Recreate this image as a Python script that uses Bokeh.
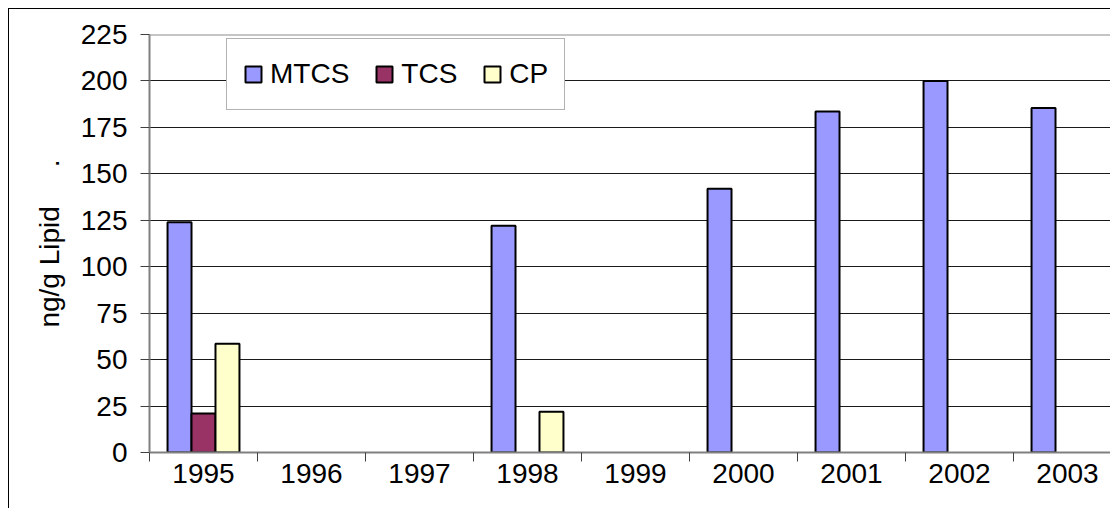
import math
from bokeh.plotting import figure
from bokeh.models import (ColumnDataSource, Range1d, LinearAxis, FixedTicker,
                          Span, Legend, LegendItem, Grid)
from bokeh.embed import file_html
from bokeh.resources import INLINE

# ---- data ----
years = ["1995", "1996", "1997", "1998", "1999", "2000", "2001", "2002", "2003"]
mtcs = [124, None, None, 122, None, 142, 183.5, 200, 185.5]
tcs = [21, None, None, None, None, None, None, None, None]
cp = [58.5, None, None, 22, None, None, None, None, None]
series_names = ["MTCS", "TCS", "CP"]
series_colors = ["#9999FF", "#993366", "#FFFFCC"]
y_ticks = [0, 25, 50, 75, 100, 125, 150, 175, 200, 225]
y_label = "ng/g Lipid\u00a0\u00a0\u00a0\u00a0\u00a0."

FONT = "Liberation Sans"
BAR_W = 0.222
offsets = [-0.222, 0.0, 0.222]

p = figure(width=1102, height=500, output_backend="svg", toolbar_location=None,
           x_range=Range1d(0, (1111 - 149) / 108.0), y_range=Range1d(0, 225),
           x_axis_location=None, y_axis_location=None,
           min_border_left=140, min_border_top=25, min_border_right=0,
           min_border_bottom=57,
           background_fill_color="white", border_fill_color="white",
           styles={"border-left": "1px solid #000000",
                   "border-top": "1px solid #000000",
                   "margin-left": "8px", "margin-top": "8px"})
p.outline_line_color = None
p.xgrid.visible = False
p.ygrid.visible = False

# grid lines
grid = Grid(dimension=1, ticker=FixedTicker(ticks=y_ticks[:-1]),
            grid_line_color="#1a1a1a", grid_line_width=1)
p.add_layout(grid)

# top border of plot area
p.add_layout(Span(location=y_ticks[-1], dimension="width",
                  line_color="#8c8c8c", line_width=2))

# bars
renderers = []
for vals, name, col, off in zip([mtcs, tcs, cp], series_names, series_colors, offsets):
    xs, tops = [], []
    for i, v in enumerate(vals):
        if v is not None:
            xs.append(i + 0.5 + off)
            tops.append(v)
    src = ColumnDataSource(dict(x=xs, top=tops))
    r = p.vbar(x="x", top="top", bottom=0, width=BAR_W, source=src,
               fill_color=col, line_color="#000000", line_width=2)
    renderers.append(r)

# y axis
yaxis = LinearAxis(ticker=FixedTicker(ticks=y_ticks))
yaxis.axis_line_color = "#808080"
yaxis.axis_line_width = 2
yaxis.major_tick_out = 9
yaxis.major_tick_in = 0
yaxis.major_tick_line_color = "#404040"
yaxis.minor_tick_line_color = None
yaxis.major_label_text_font = FONT
yaxis.major_label_text_font_size = "28px"
yaxis.major_label_text_color = "#000000"
yaxis.major_label_standoff = 13
yaxis.axis_label = y_label
yaxis.axis_label_text_font = FONT
yaxis.axis_label_text_font_size = "28px"
yaxis.axis_label_text_font_style = "normal"
yaxis.axis_label_text_color = "#000000"
yaxis.axis_label_standoff = 13
p.add_layout(yaxis, "left")

# x axis: labels at category centres, ticks at category boundaries
centers = [i + 0.5 for i in range(len(years))]
bounds = [float(i) for i in range(len(years) + 1)]
xaxis = LinearAxis(ticker=FixedTicker(ticks=centers, minor_ticks=bounds))
xaxis.major_label_overrides = {c: y for c, y in zip(centers, years)}
xaxis.axis_line_color = "#808080"
xaxis.axis_line_width = 2
xaxis.major_tick_out = 0
xaxis.major_tick_in = 0
xaxis.major_tick_line_color = None
xaxis.minor_tick_out = 9
xaxis.minor_tick_in = 0
xaxis.minor_tick_line_color = "#404040"
xaxis.major_label_text_font = FONT
xaxis.major_label_text_font_size = "28px"
xaxis.major_label_text_color = "#000000"
xaxis.major_label_standoff = 2
p.add_layout(xaxis, "below")

# legend
legend = Legend(items=[LegendItem(label=n, renderers=[r]) for n, r in zip(series_names, renderers)],
                orientation="horizontal", location=(77, 342), margin=0,
                padding=16, spacing=25, label_standoff=7,
                glyph_width=20, glyph_height=20, label_height=38,
                label_text_font=FONT, label_text_font_size="28px",
                label_text_color="#000000",
                border_line_color="#666666", border_line_width=1.5,
                background_fill_color="white", background_fill_alpha=1.0)
p.add_layout(legend)

open("out.html", "w").write(file_html(p, INLINE))
